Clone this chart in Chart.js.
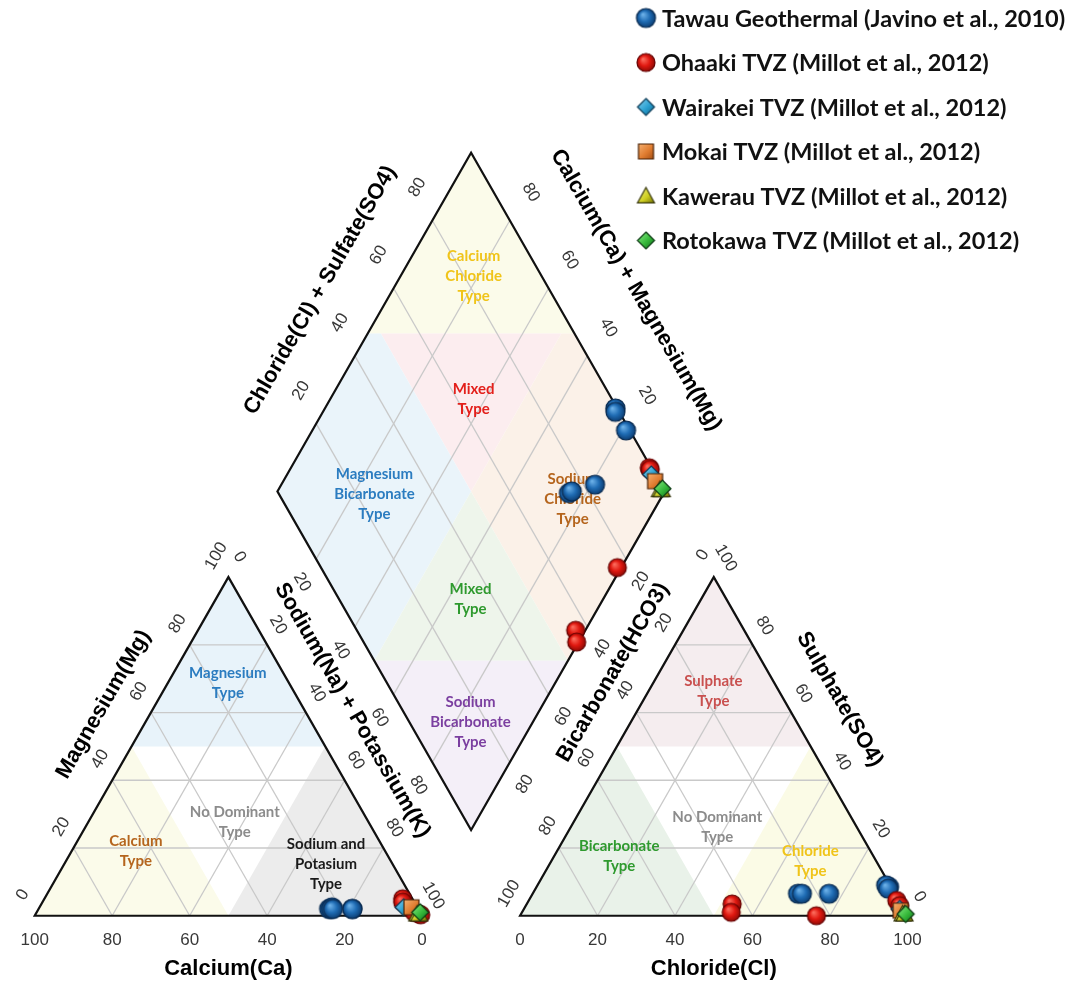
<!DOCTYPE html>
<html>
<head>
<meta charset="utf-8">
<script src="https://cdn.jsdelivr.net/npm/chart.js@4.4.0/dist/chart.umd.min.js"></script>
<style>
html,body{margin:0;padding:0;background:#ffffff;}
#wrap{width:1076px;height:991px;position:relative;}
</style>
</head>
<body>
<div id="wrap"><canvas id="c"></canvas></div>
<script>
// ---------------- DATA (percent of meq/L) ----------------
// each sample: [Ca, Mg, Na+K, HCO3, SO4, Cl]
const seriesLabels = [
  "Tawau Geothermal (Javino et al., 2010)",
  "Ohaaki TVZ (Millot et al., 2012)",
  "Wairakei TVZ (Millot et al., 2012)",
  "Mokai TVZ (Millot et al., 2012)",
  "Kawerau TVZ (Millot et al., 2012)",
  "Rotokawa TVZ (Millot et al., 2012)"
];
const tawau = [
  [23, 2, 75, 0.5, 8.5, 91],
  [22, 2.5, 75.5, 1, 9, 90],
  [17, 2, 81, 1, 8, 91],
  [22.5, 2, 75.5, 25, 6.5, 68.5],
  [22, 2, 76, 24, 6.5, 69.5],
  [17, 2, 81, 17, 6.5, 76.5]
];
const ohaaki = [
  [2.5, 5, 92.5, 0.5, 4.5, 95],
  [3, 4, 93, 0.5, 3, 96.5],
  [0.5, 0.5, 99, 23.5, 0, 76.5],
  [1.5, 1, 97.5, 43.5, 3.5, 53],
  [0.2, 0.3, 99.5, 45, 1, 54]
];
const wairakei = [
  [3.5, 2.5, 94, 1, 2, 97]
];
const mokai = [
  [1.5, 2.5, 96, 1, 1.5, 97.5]
];
const kawerau = [
  [1, 0.5, 98.5, 1, 0.5, 98.5],
  [0.5, 0.5, 99, 0.5, 0.5, 99]
];
const rotokawa = [
  [0, 1, 99, 0.2, 0.5, 99.3]
];
const tickValues = [0, 20, 40, 60, 80, 100];
const innerTicks = [20, 40, 60, 80];

// ---------------- GEOMETRY ----------------
const H = Math.sqrt(3) / 2;
const GAP = 25.3;
function cationXY(ca, mg, na) {
  const s = ca + mg + na; mg = mg / s * 100; na = na / s * 100;
  return { x: na + mg / 2, y: mg * H };
}
function anionXY(hc, so, cl) {
  const s = hc + so + cl; so = so / s * 100; cl = cl / s * 100;
  return { x: 100 + GAP + cl + so / 2, y: so * H };
}
function diamondXY(n, c) {
  const lx = 100 + GAP / 2 - 50, ly = GAP * H + 100 * H;
  return { x: lx + (n + c) / 2, y: ly + H * (c - n) };
}
function samplePoints(rows) {
  const out = [];
  rows.forEach(r => {
    const cs = r[0] + r[1] + r[2], as = r[3] + r[4] + r[5];
    out.push(cationXY(r[0], r[1], r[2]));
    out.push(anionXY(r[3], r[4], r[5]));
    out.push(diamondXY(r[2] / cs * 100, (r[4] + r[5]) / as * 100));
  });
  return out;
}

// ---------------- MARKER SPRITES ----------------
function sprite(shape, size, light, mid, dark, stroke) {
  const pad = 2, cv = document.createElement('canvas');
  cv.width = cv.height = size + pad * 2;
  const g = cv.getContext('2d');
  const c = cv.width / 2, r = size / 2;
  let grad;
  if (shape === 'circle') {
    grad = g.createRadialGradient(c - r * 0.35, c - r * 0.4, 0, c, c, r * 1.05);
  } else {
    grad = g.createLinearGradient(c - r, c - r, c + r, c + r);
  }
  grad.addColorStop(0, light); grad.addColorStop(0.55, mid); grad.addColorStop(1, dark);
  g.beginPath();
  if (shape === 'circle') g.arc(c, c, r, 0, Math.PI * 2);
  else if (shape === 'square') g.rect(c - r * 0.88, c - r * 0.88, r * 1.76, r * 1.76);
  else if (shape === 'diamond') { g.moveTo(c, c - r); g.lineTo(c + r, c); g.lineTo(c, c + r); g.lineTo(c - r, c); g.closePath(); }
  else if (shape === 'triangle') { g.moveTo(c, c - r); g.lineTo(c + r, c + r * 0.8); g.lineTo(c - r, c + r * 0.8); g.closePath(); }
  g.fillStyle = grad; g.fill();
  g.lineWidth = 1.2; g.strokeStyle = stroke; g.stroke();
  return cv;
}
const markers = [
  sprite('circle', 19, '#74b8ee', '#1f6cb4', '#0b3a6e', '#0a2c52'),
  sprite('circle', 18, '#ff7565', '#e01810', '#8a0a05', '#640000'),
  sprite('diamond', 17, '#8ad6f4', '#2a9fd0', '#0d5f85', '#0b3a55'),
  sprite('square', 17, '#f8b678', '#e07c30', '#9c4810', '#4a2206'),
  sprite('triangle', 17, '#f6f68a', '#cfcf22', '#6a6a00', '#34340c'),
  sprite('diamond', 17, '#8ef08a', '#36b83a', '#0d6a1a', '#0b3a12')
];
const seriesRows = [tawau, ohaaki, wairakei, mokai, kawerau, rotokawa];

// ---------------- BACKGROUND DEFINITIONS ----------------
const cationRegions = [
  { pts: [[0,100,0],[50,50,0],[0,50,50]], fill: '#e8f3fa' },
  { pts: [[100,0,0],[50,50,0],[50,0,50]], fill: '#fbfbea' },
  { pts: [[0,0,100],[50,0,50],[0,50,50]], fill: '#ececec' }
];
const anionRegions = [
  { pts: [[0,100,0],[50,50,0],[0,50,50]], fill: '#f5edef' },
  { pts: [[100,0,0],[50,50,0],[50,0,50]], fill: '#e9f2e9' },
  { pts: [[0,0,100],[50,0,50],[0,50,50]], fill: '#fbfbe6' }
];
const diamondRegions = [
  { pts: [[0,46.6],[0,100],[53.4,100]], fill: '#fbfbea' },
  { pts: [[3.4,50],[50,50],[50,96.6]], fill: '#fcedef' },
  { pts: [[0,0],[50,0],[50,50],[3.4,50],[0,46.6]], fill: '#eaf4fa' },
  { pts: [[50,50],[50,96.6],[53.4,100],[100,100],[100,50]], fill: '#fbf1e8' },
  { pts: [[50,0],[50,50],[100,50]], fill: '#eef5eb' },
  { pts: [[50,0],[100,0],[100,50]], fill: '#f4eff8' }
];
const regionLabels = [
  { sys: 'cat', at: [15.8, 68.7, 15.5], lines: ['Magnesium', 'Type'], color: '#2b7cc0' },
  { sys: 'cat', at: [34.6, 27.5, 37.9], lines: ['No Dominant', 'Type'], color: '#8c8c8c' },
  { sys: 'cat', at: [64.4, 19, 16.6], lines: ['Calcium', 'Type'], color: '#b5651d' },
  { sys: 'cat', at: [17.2, 15.2, 67.6], lines: ['Sodium and', 'Potasium', 'Type'], color: '#1a1a1a' },
  { sys: 'an', at: [16.9, 66.4, 16.7], lines: ['Sulphate', 'Type'], color: '#c9504f' },
  { sys: 'an', at: [35.95, 26.3, 37.75], lines: ['No Dominant', 'Type'], color: '#8c8c8c' },
  { sys: 'an', at: [65.65, 17.5, 16.85], lines: ['Bicarbonate', 'Type'], color: '#2f9a2f' },
  { sys: 'an', at: [17, 16.1, 66.9], lines: ['Chloride', 'Type'], color: '#f0c419' },
  { sys: 'dia', at: [18.9, 82.4], lines: ['Calcium', 'Chloride', 'Type'], color: '#f0c419' },
  { sys: 'dia', at: [37, 64.3], lines: ['Mixed', 'Type'], color: '#e3201b' },
  { sys: 'dia', at: [25.4, 24.7], lines: ['Magnesium', 'Bicarbonate', 'Type'], color: '#2b7cc0' },
  { sys: 'dia', at: [77.3, 75.1], lines: ['Sodium', 'Chloride', 'Type'], color: '#b5651d' },
  { sys: 'dia', at: [65.7, 34], lines: ['Mixed', 'Type'], color: '#2f9a2f' },
  { sys: 'dia', at: [83.85, 15.85], lines: ['Sodium', 'Bicarbonate', 'Type'], color: '#7b3fa0' }
];
function sysXY(sys, a) {
  if (sys === 'cat') return cationXY(a[0], a[1], a[2]);
  if (sys === 'an') return anionXY(a[0], a[1], a[2]);
  return diamondXY(a[0], a[1]);
}

const piperPlugin = {
  id: 'piper',
  beforeDatasetsDraw(chart) {
    const ctx = chart.ctx, sx = chart.scales.x, sy = chart.scales.y;
    const P = p => [sx.getPixelForValue(p.x), sy.getPixelForValue(p.y)];
    function poly(pts, fill, stroke, lw) {
      ctx.beginPath();
      pts.forEach((p, i) => { const q = P(p); i ? ctx.lineTo(q[0], q[1]) : ctx.moveTo(q[0], q[1]); });
      ctx.closePath();
      if (fill) { ctx.fillStyle = fill; ctx.fill(); }
      if (stroke) { ctx.strokeStyle = stroke; ctx.lineWidth = lw; ctx.lineJoin = 'miter'; ctx.stroke(); }
    }
    function seg(a, b, col, lw) {
      const p = P(a), q = P(b);
      ctx.beginPath(); ctx.moveTo(p[0], p[1]); ctx.lineTo(q[0], q[1]);
      ctx.strokeStyle = col; ctx.lineWidth = lw; ctx.stroke();
    }
    function text(str, p, dx, dy, rot, font, color) {
      const q = P(p);
      ctx.save(); ctx.translate(q[0] + dx, q[1] + dy); ctx.rotate(rot * Math.PI / 180);
      ctx.font = font; ctx.fillStyle = color; ctx.textAlign = 'center'; ctx.textBaseline = 'middle';
      ctx.fillText(str, 0, 0); ctx.restore();
    }
    ctx.save();
    // fills
    cationRegions.forEach(r => poly(r.pts.map(t => cationXY(t[0], t[1], t[2])), r.fill));
    anionRegions.forEach(r => poly(r.pts.map(t => anionXY(t[0], t[1], t[2])), r.fill));
    diamondRegions.forEach(r => poly(r.pts.map(t => diamondXY(t[0], t[1])), r.fill));
    // grid
    const gc = '#c9c9c9', gw = 1.3;
    innerTicks.forEach(k => {
      seg(cationXY(100 - k, k, 0), cationXY(0, k, 100 - k), gc, gw);
      seg(cationXY(k, 100 - k, 0), cationXY(k, 0, 100 - k), gc, gw);
      seg(cationXY(100 - k, 0, k), cationXY(0, 100 - k, k), gc, gw);
      seg(anionXY(100 - k, k, 0), anionXY(0, k, 100 - k), gc, gw);
      seg(anionXY(k, 100 - k, 0), anionXY(k, 0, 100 - k), gc, gw);
      seg(anionXY(100 - k, 0, k), anionXY(0, 100 - k, k), gc, gw);
      seg(diamondXY(k, 0), diamondXY(k, 100), gc, gw);
      seg(diamondXY(0, k), diamondXY(100, k), gc, gw);
    });
    // outlines
    poly([cationXY(100,0,0), cationXY(0,0,100), cationXY(0,100,0)], null, '#111', 2.2);
    poly([anionXY(100,0,0), anionXY(0,0,100), anionXY(0,100,0)], null, '#111', 2.2);
    poly([diamondXY(0,0), diamondXY(100,0), diamondXY(100,100), diamondXY(0,100)], null, '#111', 2.2);
    // region labels
    const rf = 'bold 15px Lato, "Open Sans", sans-serif';
    regionLabels.forEach(l => {
      const p = sysXY(l.sys, l.at), n = l.lines.length;
      l.lines.forEach((s, i) => text(s, p, 0, (i - (n - 1) / 2) * 20, 0, rf, l.color));
    });
    // tick labels
    const tf = '17px "Liberation Sans", Arial, sans-serif', tc = '#383838';
    tickValues.forEach(v => {
      text(String(v), cationXY(v, 0, 100 - v), 0, 25, 0, tf, tc);
      text(String(v), cationXY(100 - v, v, 0), -12, -21, -60, tf, tc);
      text(String(v), cationXY(0, 100 - v, v), 11, -20, 60, tf, tc);
      text(String(v), anionXY(100 - v, 0, v), 0, 25, 0, tf, tc);
      text(String(v), anionXY(v, 100 - v, 0), -11, -22, -60, tf, tc);
      text(String(v), anionXY(0, v, 100 - v), 12, -19, 60, tf, tc);
    });
    innerTicks.forEach(v => {
      text(String(v), diamondXY(0, v), -15, -33, -60, tf, tc);
      text(String(v), diamondXY(100 - v, 100), 21, -28, 60, tf, tc);
      text(String(v), diamondXY(v, 0), -14, 23, 60, tf, tc);
      text(String(v), diamondXY(100, 100 - v), 15, 22, -60, tf, tc);
    });
    // axis titles
    const af = 'bold 22px "Liberation Sans", Arial, sans-serif', ac = '#000';
    text('Calcium(Ca)', cationXY(50, 0, 50), 0, 53, 0, af, ac);
    text('Chloride(Cl)', anionXY(50, 0, 50), 0, 53, 0, af, ac);
    text('Magnesium(Mg)', cationXY(50, 50, 0), -28, -42, -60, af, ac);
    text('Sodium(Na) + Potassium(K)', cationXY(0, 50, 50), 27, -36, 60, af, ac);
    text('Bicarbonate(HCO3)', anionXY(50, 50, 0), -4, -74, -60, af, ac);
    text('Sulphate(SO4)', anionXY(0, 50, 50), 29, -47, 60, af, ac);
    text('Chloride(Cl) + Sulfate(SO4)', diamondXY(0, 50), -54, -32, -60, af, ac);
    text('Calcium(Ca) + Magnesium(Mg)', diamondXY(50, 100), 68, -32, 60, af, ac);
    ctx.restore();
  },
  afterDraw(chart) {
    const ctx = chart.ctx;
    ctx.save();
    ctx.font = 'bold 23.5px Lato, "Open Sans", sans-serif';
    ctx.fillStyle = '#111'; ctx.textAlign = 'left'; ctx.textBaseline = 'middle';
    chart.data.datasets.forEach((d, i) => {
      const y = 18 + i * 44.5;
      const m = d.pointStyle;
      ctx.drawImage(m, 646 - m.width / 2, y - m.height / 2);
      ctx.fillText(d.label, 662, y + 1);
    });
    ctx.restore();
  }
};

const datasets = seriesRows.map((rows, i) => ({
  label: seriesLabels[i],
  data: samplePoints(rows),
  pointStyle: markers[i],
  showLine: false,
  order: seriesRows.length - 1 - i
}));

new Chart(document.getElementById('c'), {
  type: 'scatter',
  data: { datasets },
  options: {
    responsive: true,
    maintainAspectRatio: false,
    animation: false,
    events: [],
    layout: { padding: 0 },
    plugins: { legend: { display: false }, tooltip: { enabled: false } },
    scales: {
      x: { type: 'linear', display: false, min: -7.673, max: 267.52 },
      y: { type: 'linear', display: false, min: -17.97, max: 232.9 }
    }
  },
  plugins: [piperPlugin]
});
</script>
</body>
</html>
